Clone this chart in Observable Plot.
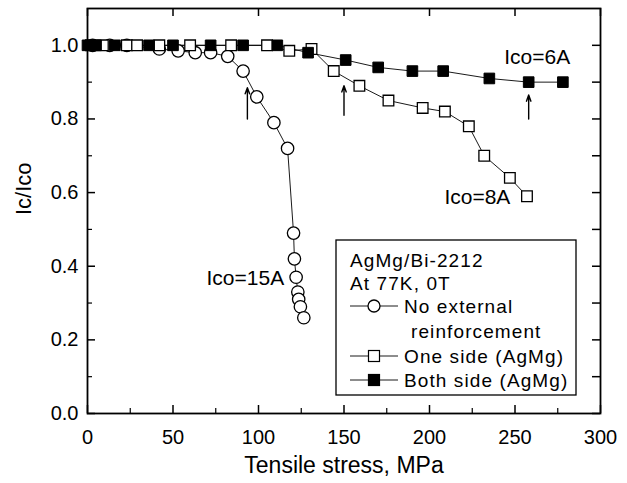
<!DOCTYPE html>
<html>
<head>
<meta charset="utf-8">
<script src="https://cdn.jsdelivr.net/npm/d3@7"></script>
<script src="https://cdn.jsdelivr.net/npm/@observablehq/plot@0.6"></script>
<style>
  html, body { margin: 0; padding: 0; background: #fff; }
  #chart svg { display: block; }
</style>
</head>
<body>
<div id="chart"></div>
<script>
// ---- data ----
// No external reinforcement, Ico = 15A (open circles)
const circleX = [3, 13, 23, 42, 53, 63, 72, 82, 91, 99, 109, 117, 120.5, 121, 122, 123, 123.5, 124.5, 126.5];
const circleY = [1.0, 1.0, 1.0, 0.99, 0.985, 0.98, 0.98, 0.97, 0.93, 0.86, 0.79, 0.72, 0.49, 0.42, 0.37, 0.33, 0.31, 0.29, 0.26];
// One side (AgMg), Ico = 8A (open squares)
const openX = [2, 9, 23, 29, 42, 60, 84, 105, 118, 131, 144, 159, 176, 196, 209, 223, 232, 247, 257];
const openY = [1, 1, 1, 1, 1, 1, 1, 1, 0.985, 0.99, 0.93, 0.89, 0.85, 0.83, 0.82, 0.78, 0.70, 0.64, 0.59];
// Both side (AgMg), Ico = 6A (filled squares)
const filledX = [0, 5, 16, 36, 50, 72, 91, 111, 129, 151, 170, 190, 208, 235, 258, 278];
const filledY = [1, 1, 1, 1, 1, 1, 1, 1, 0.98, 0.96, 0.94, 0.93, 0.93, 0.91, 0.90, 0.90];

// arrows
const arrowX = [93.5, 150, 258];
const arrowY1 = [0.80, 0.81, 0.80];
const arrowY2 = [0.885, 0.89, 0.865];

// curve labels
const labelText = ["Ico=6A", "Ico=8A", "Ico=15A"];
const labelX = [263, 228, 92.3];
const labelY = [0.967, 0.587, 0.367];

// ticks
const xMajor = [0, 50, 100, 150, 200, 250, 300];
const xMinor = [25, 75, 125, 175, 225, 275];
const yMajor = [0.0, 0.2, 0.4, 0.6, 0.8, 1.0];
const yMinor = [0.1, 0.3, 0.5, 0.7, 0.9];
const yAll = [0.0, 0.1, 0.2, 0.3, 0.4, 0.5, 0.6, 0.7, 0.8, 0.9, 1.0];

const legendTitle = ["AgMg/Bi-2212", "At 77K, 0T"];
const legendLabels = [["No external", "reinforcement"], ["One side (AgMg)"], ["Both side (AgMg)"]];

// ---- build tables ----
const circles = circleX.map((x, i) => ({x, y: circleY[i]}));
const opens = openX.map((x, i) => ({x, y: openY[i]}));
const filled = filledX.map((x, i) => ({x, y: filledY[i]}));
const arrows = arrowX.map((x, i) => ({x, y1: arrowY1[i], y2: arrowY2[i]}));
const labels = labelText.map((t, i) => ({t, x: labelX[i], y: labelY[i]}));

const W = 627, H = 483;
const mL = 87, mR = 27, mT = 8, mB = 70;
const iW = W - mL - mR, iH = H - mT - mB;
const FONT = "'Liberation Sans', Arial, Helvetica, sans-serif";

const svg = Plot.plot({
  width: W,
  height: H,
  marginLeft: mL,
  marginRight: mR,
  marginTop: mT,
  marginBottom: mB,
  style: {fontFamily: FONT, background: "#fff", color: "#000", overflow: "visible"},
  x: {domain: [0, 300]},
  y: {domain: [0, 1.1]},
  marks: [
    // tick labels
    Plot.axisX(xMajor, {anchor: "bottom", tickSize: 0, tickPadding: 16, fontSize: 20, label: null, tickFormat: d => String(d), letterSpacing: 0.8}),
    Plot.axisY(yMajor, {anchor: "left", tickSize: 0, tickPadding: 9, fontSize: 20, label: null, tickFormat: d => d.toFixed(1), letterSpacing: 1.4}),
    // inward ticks
    Plot.tickX(xMajor, {x: d => d, insetTop: iH - 8, stroke: "#000", strokeWidth: 1.5}),
    Plot.tickX(xMinor, {x: d => d, insetTop: iH - 5, stroke: "#000", strokeWidth: 1.2}),
    Plot.tickX(xMajor, {x: d => d, insetBottom: iH - 8, stroke: "#000", strokeWidth: 1.5}),
    Plot.tickY(yMajor, {y: d => d, insetRight: iW - 8, stroke: "#000", strokeWidth: 1.5}),
    Plot.tickY(yMinor, {y: d => d, insetRight: iW - 5, stroke: "#000", strokeWidth: 1.2}),
    Plot.tickY(yAll, {y: d => d, insetLeft: iW - 8, stroke: "#000", strokeWidth: 1.5}),
    Plot.frame({stroke: "#000", strokeWidth: 1.8}),
    // axis titles
    Plot.text(["Tensile stress, MPa"], {frameAnchor: "bottom", dy: 59, fontSize: 23, letterSpacing: 0.7, fill: "#000"}),
    Plot.text(["Ic/Ico"], {frameAnchor: "left", dx: -64, dy: 4, rotate: -90, fontSize: 22, letterSpacing: 1.5, fill: "#000"}),
    // connecting lines
    Plot.line(circles, {x: "x", y: "y", stroke: "#000", strokeWidth: 0.9}),
    Plot.line(opens, {x: "x", y: "y", stroke: "#000", strokeWidth: 0.9}),
    Plot.line(filled, {x: "x", y: "y", stroke: "#000", strokeWidth: 0.9}),
    // markers
    Plot.dot(circles, {x: "x", y: "y", r: 6.2, symbol: "circle", fill: "#fff", stroke: "#000", strokeWidth: 1.3}),
    Plot.dot(opens, {x: "x", y: "y", r: 6.0, symbol: "square", fill: "#fff", stroke: "#000", strokeWidth: 1.3}),
    Plot.dot(filled, {x: "x", y: "y", r: 6.0, symbol: "square", fill: "#000", stroke: "#000", strokeWidth: 1}),
    // arrows
    Plot.arrow(arrows, {x1: "x", y1: "y1", x2: "x", y2: "y2", stroke: "#000", strokeWidth: 1.4, headLength: 7, headAngle: 40}),
    // curve labels
    Plot.text(labels, {x: "x", y: "y", text: "t", fontSize: 21, letterSpacing: 0.8, fill: "#000"})
  ]
});

// ---- legend box inside the plot ----
const g = d3.select(svg).append("g")
  .attr("font-family", FONT)
  .attr("font-size", 19)
  .attr("letter-spacing", 1.1)
  .attr("text-anchor", "start")
  .attr("fill", "#000");
const bx = 336, by = 240, bw = 240, bh = 155;
g.append("rect").attr("x", bx).attr("y", by).attr("width", bw).attr("height", bh)
  .attr("fill", "#fff").attr("stroke", "#000").attr("stroke-width", 1.3);
const tx = 350;
legendTitle.forEach((t, i) => {
  g.append("text").attr("x", tx).attr("y", 260 + i * 23).attr("dy", "0.35em")
    .attr("text-anchor", "start").text(t);
});
const rowsY = [306, 356, 380];
const symbols = ["circle", "open", "filled"];
rowsY.forEach((ry, i) => {
  g.append("line").attr("x1", 350).attr("x2", 398).attr("y1", ry).attr("y2", ry)
    .attr("stroke", "#000").attr("stroke-width", 0.9);
  if (symbols[i] === "circle") {
    g.append("circle").attr("cx", 374).attr("cy", ry).attr("r", 6).attr("fill", "#fff").attr("stroke", "#000").attr("stroke-width", 1.3);
  } else {
    g.append("rect").attr("x", 374 - 5.5).attr("y", ry - 5.5).attr("width", 11).attr("height", 11)
      .attr("fill", symbols[i] === "filled" ? "#000" : "#fff").attr("stroke", "#000").attr("stroke-width", 1.2);
  }
  legendLabels[i].forEach((t, j) => {
    g.append("text").attr("x", j === 0 ? 404 : 411).attr("y", ry + j * 25).attr("dy", "0.35em")
      .attr("text-anchor", "start").text(t);
  });
});

document.getElementById("chart").appendChild(svg);
</script>
</body>
</html>
